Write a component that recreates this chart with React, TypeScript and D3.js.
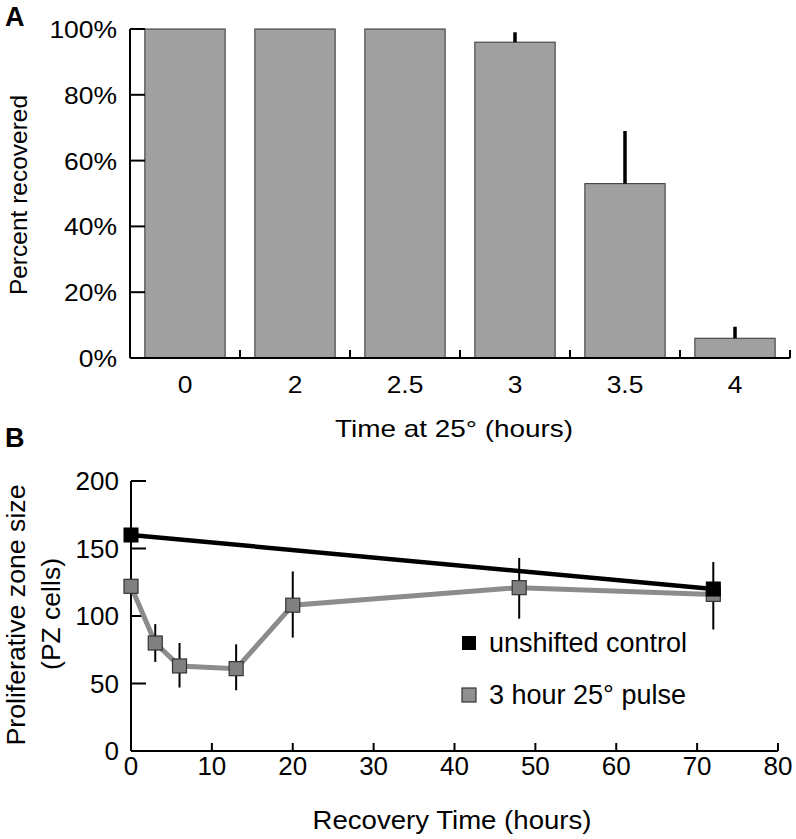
import React from "react";
import * as d3 from "d3";

// Panel A data
const timeCategories = ["0", "2", "2.5", "3", "3.5", "4"];
const percentRecovered = [100, 100, 100, 96, 53, 6];
const percentErrorUp = [0, 0, 0, 3, 16, 3.5];
const percentTicks = [0, 20, 40, 60, 80, 100];

// Panel B data
const pulseHours = [0, 3, 6, 13, 20, 48, 72];
const pulseValues = [122, 80, 63, 61, 108, 121, 116];
const pulseLow = [null, 66, 47, 45, 84, 98, 90];
const pulseHigh = [null, 94, 80, 79, 133, 143, 140];
const controlHours = [0, 72];
const controlValues = [160, 120];
const pzTicks = [0, 50, 100, 150, 200];
const hourTicks = [0, 10, 20, 30, 40, 50, 60, 70, 80];

const FONT = "'Liberation Sans', Arial, Helvetica, sans-serif";

function HText(props: { x: number; y: number; size: number; anchor?: string; sx?: number; children: React.ReactNode }) {
  const { x, y, size, anchor = "start", sx = 1, children } = props;
  return (
    <text transform={`translate(${x},${y}) scale(${sx},1)`} fontSize={size} textAnchor={anchor as any}>
      {children}
    </text>
  );
}

export default function App() {
  // Panel A scales
  const xA = d3.scaleBand<string>().domain(timeCategories).range([130, 790]).paddingInner(0.27).paddingOuter(0.135);
  const bandFull = d3.scaleBand<string>().domain(timeCategories).range([130, 790]);
  const yA = d3.scaleLinear().domain([0, 100]).range([358, 29]);

  // Panel B scales
  const xB = d3.scaleLinear().domain([0, 80]).range([131, 778]);
  const yB = d3.scaleLinear().domain([0, 200]).range([751, 481]);

  const pulseLine = d3.line<number>().x((_, i) => xB(pulseHours[i])).y((d) => yB(d));
  const controlLine = d3.line<number>().x((_, i) => xB(controlHours[i])).y((d) => yB(d));

  const ms = 14;

  return (
    <svg width={796} height={839} style={{ position: "absolute", left: 0, top: 0, background: "#fff" }} fontFamily={FONT}>
      <rect x={0} y={0} width={796} height={839} fill="#fff" />
      {/* Panel A */}
      <text x={5} y={26} fontSize={27} fontWeight="bold">A</text>
      {timeCategories.map((c, i) => (
        <g key={c}>
          <rect x={xA(c)} y={yA(percentRecovered[i])} width={xA.bandwidth()} height={yA(0) - yA(percentRecovered[i])} fill="#a0a0a0" stroke="#333" strokeWidth={1} />
          {percentErrorUp[i] > 0 && (
            <line x1={xA(c)! + xA.bandwidth() / 2} x2={xA(c)! + xA.bandwidth() / 2} y1={yA(percentRecovered[i])} y2={yA(percentRecovered[i] + percentErrorUp[i])} stroke="#000" strokeWidth={3.5} />
          )}
          <HText x={bandFull(c)! + bandFull.bandwidth() / 2} y={393} size={24} anchor="middle" sx={1.1}>{c}</HText>
        </g>
      ))}
      {/* y axis A */}
      <line x1={130} x2={130} y1={yA(100)} y2={yA(0)} stroke="#000" strokeWidth={2} />
      {percentTicks.map((t) => (
        <g key={t}>
          <line x1={130} x2={145} y1={yA(t)} y2={yA(t)} stroke="#000" strokeWidth={2} />
          <HText x={117} y={yA(t) + 9} size={23} anchor="end" sx={1.15}>{t}%</HText>
        </g>
      ))}
      {/* x axis A */}
      <line x1={130} x2={790} y1={358} y2={358} stroke="#000" strokeWidth={2} />
      {timeCategories.map((c) => (
        <line key={c} x1={bandFull(c)! + bandFull.bandwidth()} x2={bandFull(c)! + bandFull.bandwidth()} y1={358} y2={350} stroke="#000" strokeWidth={2} />
      ))}
      <text x={454} y={437} fontSize={24} textAnchor="middle" textLength={238} lengthAdjust="spacingAndGlyphs">Time at 25° (hours)</text>
      <text transform="translate(27,195) rotate(-90)" fontSize={24.5} textAnchor="middle">Percent recovered</text>

      {/* Panel B */}
      <text x={5} y={447} fontSize={27} fontWeight="bold">B</text>
      {/* axes B */}
      <line x1={xB(0)} x2={xB(0)} y1={yB(200)} y2={yB(0)} stroke="#000" strokeWidth={2} />
      {pzTicks.map((t) => (
        <g key={t}>
          <line x1={xB(0)} x2={xB(0) + 15} y1={yB(t)} y2={yB(t)} stroke="#000" strokeWidth={2} />
          <text x={119} y={yB(t) + 9} fontSize={26} textAnchor="end">{t}</text>
        </g>
      ))}
      <line x1={xB(0)} x2={xB(80)} y1={yB(0)} y2={yB(0)} stroke="#000" strokeWidth={2} />
      {hourTicks.map((t) => (
        <g key={t}>
          <line x1={xB(t)} x2={xB(t)} y1={yB(0)} y2={yB(0) - 8} stroke="#000" strokeWidth={2} />
          <text x={xB(t)} y={775} fontSize={26} textAnchor="middle">{t}</text>
        </g>
      ))}
      <text x={452} y={829} fontSize={25} textAnchor="middle" textLength={279} lengthAdjust="spacingAndGlyphs">Recovery Time (hours)</text>
      <text transform="translate(25,615) rotate(-90)" fontSize={26.7} textAnchor="middle">Proliferative zone size</text>
      <text transform="translate(60,614) rotate(-90)" fontSize={26.5} textAnchor="middle">(PZ cells)</text>

      {/* lines */}
      <path d={controlLine(controlValues)!} fill="none" stroke="#000" strokeWidth={4.5} />
      <path d={pulseLine(pulseValues)!} fill="none" stroke="#8c8c8c" strokeWidth={5} />
      {/* error bars */}
      {pulseHours.map((h, i) =>
        pulseLow[i] != null ? (
          <line key={h} x1={xB(h)} x2={xB(h)} y1={yB(pulseLow[i]!)} y2={yB(pulseHigh[i]!)} stroke="#000" strokeWidth={2} />
        ) : null
      )}
      {/* markers */}
      {pulseHours.map((h, i) => (
        <rect key={h} x={xB(h) - ms / 2} y={yB(pulseValues[i]) - ms / 2} width={ms} height={ms} fill="#808080" stroke="#333" strokeWidth={1.2} />
      ))}
      {controlHours.map((h, i) => (
        <rect key={h} x={xB(h) - ms / 2} y={yB(controlValues[i]) - ms / 2} width={ms} height={ms} fill="#000" stroke="#000" strokeWidth={1} />
      ))}
      {/* legend */}
      <rect x={462} y={636} width={14} height={14} fill="#000" />
      <text x={489} y={652} fontSize={27}>unshifted control</text>
      <rect x={462} y={688} width={14} height={14} fill="#909090" stroke="#333" strokeWidth={1.2} />
      <text x={489} y={704} fontSize={27}>3 hour 25° pulse</text>
    </svg>
  );
}
